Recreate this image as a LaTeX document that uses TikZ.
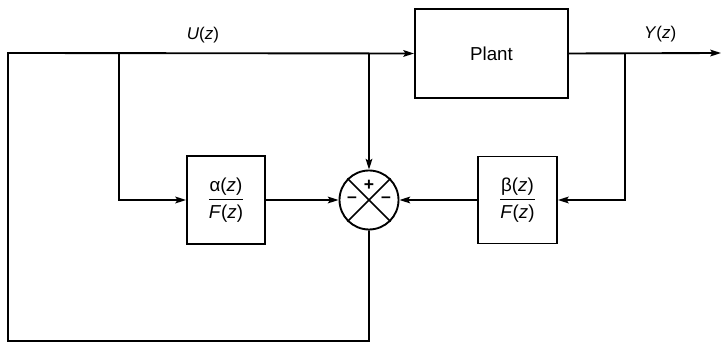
\documentclass[tikz,border=0pt]{standalone}
\usepackage{amsmath}
\usepackage{fontspec}
\setmainfont{Liberation Sans}
\usetikzlibrary{arrows.meta, positioning, calc}

\begin{document}
\begin{tikzpicture}[
  x=0.03cm, y=0.03cm,
  font=\fontsize{14.5}{17}\selectfont,
  blok/.style={
    draw, line width=1.6pt, align=center, inner sep=0pt
  },
  somme/.style={
    circle, draw, line width=1.6pt, minimum size=59*0.03cm, inner sep=0pt
  },
  signe/.style={font=\fontsize{15}{17}\selectfont\bfseries, inner sep=0pt},
  lien/.style={line width=1.4pt},
  sig/.style={
    -{Stealth[length=3.2mm, width=2mm, inset=0.6mm]},
    line width=1.6pt
  }
]
\useasboundingbox (0,0) rectangle (722,344);

% ----- blocs -----
\node[blok, minimum width=153*0.03cm, minimum height=89*0.03cm, font=\fontsize{16}{19}\selectfont] (plant) at (491.5, 290.5) {Plant};
\node[blok, minimum width=78*0.03cm, minimum height=88*0.03cm, font=\fontsize{16}{19}\selectfont] (alpha) at (226, 144)
  {$\dfrac{\text{α(\textit{z})}}{\text{\textit{F}(\textit{z})}}$};
\node[blok, minimum width=79*0.03cm, minimum height=87*0.03cm, font=\fontsize{16}{19}\selectfont] (beta) at (517.5, 144)
  {$\dfrac{\text{β(\textit{z})}}{\text{\textit{F}(\textit{z})}}$};
\node[somme] (sum) at (369, 144) {};

% croix et signes du sommateur
\draw[lien] (sum.north west) -- (sum.south east);
\draw[lien] (sum.north east) -- (sum.south west);
\node[signe] (plus)   at ($(sum.center)+(0,15)$) {+};
\node[signe] (moinsG) at ($(sum.center)+(-17,0)$) {–};
\node[signe] (moinsD) at ($(sum.center)+(17,0)$) {–};

% ----- points de branchement -----
\coordinate (topL) at (8, 291);
\coordinate (botL) at (8, 3);
\coordinate (brA)  at (119, 291);
\coordinate (brS)  at (369, 291);
\coordinate (brY)  at (625, 291);
\coordinate (out)  at (721, 291);

% ----- liaisons -----
\draw[sig] (sum.south) -- (sum.south |- botL) -- (botL) -- (topL)
  -- node[pos=0.48, above=5pt] (ulab) {\textit{U}(\textit{z})} (plant.west);
\draw[sig] (brA) |- (alpha.west);
\draw[sig] (alpha.east) -- (sum.west);
\draw[sig] (brS) -- (sum.north);
\draw[sig] (plant.east) -- node[pos=0.6, above=5pt] (ylab) {\textit{Y}(\textit{z})} (out);
\draw[sig] (brY) |- (beta.east);
\draw[sig] (beta.west) -- (sum.east);

\end{tikzpicture}
\end{document}
